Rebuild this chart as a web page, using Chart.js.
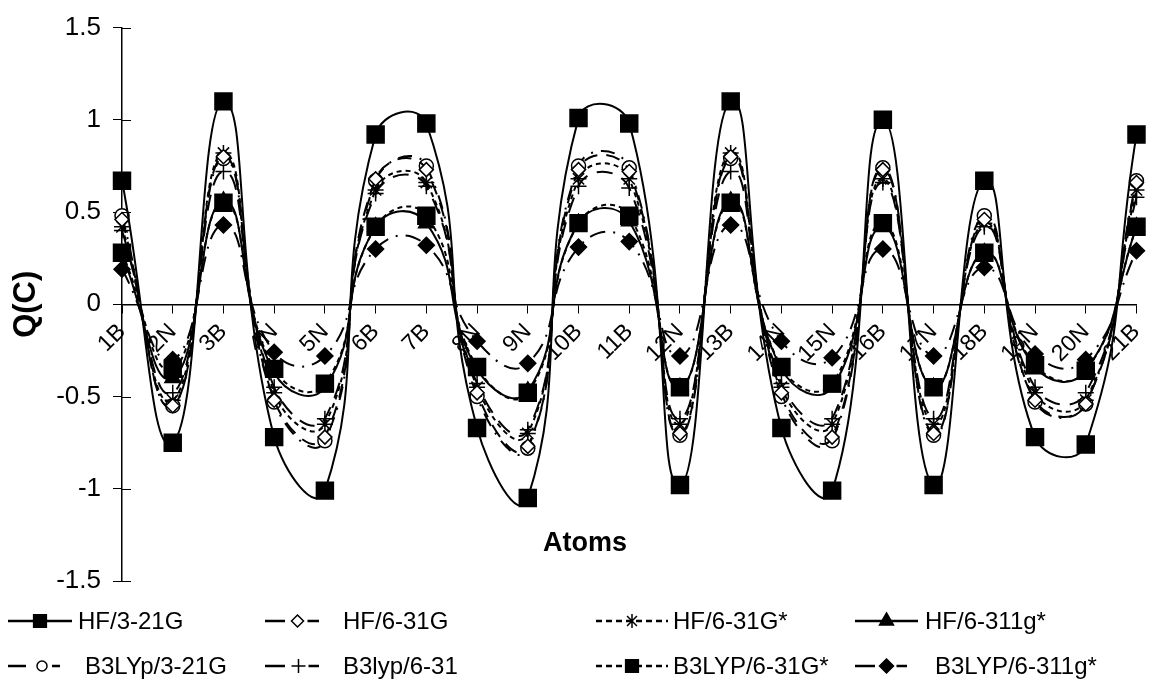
<!DOCTYPE html>
<html>
<head>
<meta charset="utf-8">
<style>
  html, body { margin: 0; padding: 0; background: #ffffff; }
  #wrap { width: 1162px; height: 687px; position: relative; }
</style>
<script src="https://cdn.jsdelivr.net/npm/chart.js@4/dist/chart.umd.min.js"></script>
</head>
<body>
<div id="wrap"><canvas id="c" width="1162" height="687"></canvas></div>
<script>
// ---- data ----
const categories = ['1B','2N','3B','4N','5N','6B','7B','8N','9N','10B','11B','12N','13B','14N','15N','16B','17N','18B','19N','20N','21B'];
const yTicks = [-1.5, -1, -0.5, 0, 0.5, 1, 1.5];

const seriesNames = ['HF/3-21G','HF/6-31G','HF/6-31G*','HF/6-311g*','B3LYp/3-21G','B3lyp/6-31','B3LYP/6-31G*','B3LYP/6-311g*'];

const hf321g   = [0.67,-0.75,1.10,-0.72,-1.01,0.92,0.98,-0.67,-1.05,1.01,0.98,-0.98,1.10,-0.67,-1.01,1.00,-0.98,0.67,-0.72,-0.76,0.92];
const hf631g   = [0.46,-0.55,0.80,-0.52,-0.72,0.68,0.73,-0.48,-0.77,0.73,0.72,-0.70,0.80,-0.48,-0.72,0.73,-0.70,0.46,-0.52,-0.54,0.66];
const hf631gs  = [0.42,-0.52,0.82,-0.48,-0.65,0.62,0.66,-0.45,-0.70,0.68,0.68,-0.65,0.82,-0.45,-0.65,0.68,-0.65,0.44,-0.48,-0.52,0.62];
const hf6311gs = [0.27,-0.40,0.56,-0.37,-0.45,0.42,0.44,-0.35,-0.47,0.44,0.45,-0.45,0.56,-0.35,-0.45,0.42,-0.45,0.28,-0.34,-0.36,0.42];
const b3321g   = [0.48,-0.55,0.79,-0.53,-0.74,0.67,0.75,-0.50,-0.78,0.75,0.74,-0.71,0.79,-0.50,-0.74,0.74,-0.71,0.48,-0.53,-0.54,0.67];
const b3631    = [0.40,-0.48,0.72,-0.45,-0.62,0.60,0.64,-0.43,-0.68,0.64,0.63,-0.62,0.72,-0.43,-0.62,0.66,-0.62,0.42,-0.45,-0.48,0.58];
const b3631gs  = [0.28,-0.35,0.55,-0.35,-0.43,0.42,0.48,-0.34,-0.48,0.44,0.48,-0.45,0.55,-0.34,-0.43,0.44,-0.45,0.28,-0.33,-0.36,0.42];
const b36311gs = [0.19,-0.30,0.43,-0.26,-0.28,0.30,0.32,-0.20,-0.32,0.31,0.34,-0.28,0.43,-0.20,-0.29,0.30,-0.28,0.20,-0.27,-0.30,0.29];

const seriesValues = [hf321g, hf631g, hf631gs, hf6311gs, b3321g, b3631, b3631gs, b36311gs];

// ---- styles ----
const FONT = "'Liberation Sans', Arial, sans-serif";
const styles = [
  { dash: [],            point: 'rect',     r: 12, fill: '#000', lr: 9, ldash: [] },
  { dash: [14, 9],       point: 'rectRot',  r: 7,  fill: '#fff', lr: 6, ldash: [20, 14] },
  { dash: [5, 4],        point: 'star',     r: 8,  fill: '#000', lr: 7, ldash: [6, 4] },
  { dash: [],            point: 'triangle', r: 9,  fill: '#000', lr: 8, ldash: [] },
  { dash: [14, 8, 2, 8], point: 'circle',   r: 7,  fill: '#fff', lr: 5, ldash: [18, 16] },
  { dash: [16, 10],      point: 'cross',    r: 8,  fill: '#000', lr: 7, ldash: [20, 14] },
  { dash: [5, 4],        point: 'rect',     r: 12, fill: '#000', lr: 9, ldash: [6, 4] },
  { dash: [16, 8, 2, 8], point: 'rectRot',  r: 8,  fill: '#000', lr: 7, ldash: [20, 12] }
];

const datasets = seriesNames.map((name, i) => ({
  label: name,
  data: seriesValues[i],
  borderColor: '#000',
  backgroundColor: styles[i].fill,
  borderWidth: 2,
  borderDash: styles[i].dash,
  pointStyle: styles[i].point,
  pointRadius: styles[i].r,
  pointBorderWidth: 1.5,
  pointBorderColor: '#000',
  pointBackgroundColor: styles[i].fill,
  tension: 0.5,
  fill: false
}));

// legend layout (per item)
const legendLineStart = [8, 265, 596, 855, 8, 265, 596, 855];
const legendLineEnd   = [72, 330, 668, 918, 76, 332, 668, 918];
const legendTextX     = [78, 343, 673, 925, 85, 343, 673, 935];
const legendRowY      = [621, 666];

function drawMarker(ctx, style, r, x, y, fill) {
  ctx.save();
  ctx.fillStyle = fill;
  ctx.strokeStyle = '#000';
  ctx.lineWidth = 1.5;
  ctx.setLineDash([]);
  ctx.beginPath();
  if (style === 'rect') {
    const s = r * Math.SQRT1_2;
    ctx.rect(x - s, y - s, 2 * s, 2 * s);
    ctx.fill(); ctx.stroke();
  } else if (style === 'rectRot') {
    ctx.moveTo(x, y - r); ctx.lineTo(x + r, y); ctx.lineTo(x, y + r); ctx.lineTo(x - r, y); ctx.closePath();
    ctx.fill(); ctx.stroke();
  } else if (style === 'circle') {
    ctx.arc(x, y, r, 0, Math.PI * 2);
    ctx.fill(); ctx.stroke();
  } else if (style === 'triangle') {
    ctx.moveTo(x, y - r); ctx.lineTo(x + r * 0.87, y + r * 0.5); ctx.lineTo(x - r * 0.87, y + r * 0.5); ctx.closePath();
    ctx.fill(); ctx.stroke();
  } else if (style === 'cross') {
    ctx.moveTo(x, y - r); ctx.lineTo(x, y + r); ctx.moveTo(x - r, y); ctx.lineTo(x + r, y);
    ctx.stroke();
  } else if (style === 'star') {
    ctx.moveTo(x, y - r); ctx.lineTo(x, y + r);
    const d = r * Math.SQRT1_2;
    ctx.moveTo(x - d, y - d); ctx.lineTo(x + d, y + d);
    ctx.moveTo(x - d, y + d); ctx.lineTo(x + d, y - d);
    ctx.stroke();
  }
  ctx.restore();
}

const customPlugin = {
  id: 'custom',
  afterDraw(chart) {
    const ctx = chart.ctx;
    const yScale = chart.scales.y;
    const area = chart.chartArea;
    ctx.save();
    // inward y tick marks
    ctx.strokeStyle = '#000';
    ctx.lineWidth = 1;
    yScale.ticks.forEach(t => {
      const py = Math.round(yScale.getPixelForValue(t.value)) + 0.5;
      ctx.beginPath();
      ctx.moveTo(area.left, py);
      ctx.lineTo(area.left + 9, py);
      ctx.stroke();
    });
    // x axis title inside plot
    ctx.fillStyle = '#000';
    ctx.font = 'bold 27px ' + FONT;
    ctx.textAlign = 'center';
    ctx.textBaseline = 'middle';
    ctx.fillText('Atoms', chart.width / 2 + 4, yScale.getPixelForValue(-1.5) - 37);
    // legend
    ctx.font = '24px ' + FONT;
    ctx.textAlign = 'left';
    chart.data.datasets.forEach((ds, i) => {
      const row = Math.floor(i / 4);
      const x0 = legendLineStart[i], x1 = legendLineEnd[i], y = legendRowY[row];
      ctx.save();
      ctx.strokeStyle = '#000';
      ctx.lineWidth = 2.5;
      ctx.setLineDash(styles[i].ldash);
      ctx.beginPath();
      ctx.moveTo(x0, y);
      ctx.lineTo(x1, y);
      ctx.stroke();
      ctx.restore();
      if (styles[i].ldash.length && styles[i].ldash[0] > 10) {
        // clear gap around marker like the reference
        ctx.save();
        ctx.fillStyle = '#fff';
        ctx.fillRect((x0 + x1) / 2 - 10, y - 3, 20, 6);
        ctx.restore();
      }
      drawMarker(ctx, styles[i].point, styles[i].lr, (x0 + x1) / 2, y, styles[i].fill);
      ctx.fillStyle = '#000';
      ctx.fillText(ds.label, legendTextX[i], y + 1);
    });
    ctx.restore();
  }
};

new Chart(document.getElementById('c'), {
  type: 'line',
  data: { labels: categories, datasets },
  plugins: [customPlugin],
  options: {
    responsive: false,
    animation: false,
    devicePixelRatio: 1,
    layout: { padding: { left: 8, right: 14, top: 23, bottom: 106 } },
    plugins: { legend: { display: false }, tooltip: { enabled: false } },
    elements: { line: { capBezierPoints: false } },
    scales: {
      x: {
        type: 'category',
        position: { y: 0 },
        offset: false,
        grid: { display: true, drawOnChartArea: false, drawTicks: true, tickLength: 8, color: '#000', tickColor: '#000' },
        border: { display: true, color: '#000', width: 1.5 },
        ticks: { color: '#000', font: { family: FONT, size: 23 }, minRotation: 45, maxRotation: 45, autoSkip: false, padding: 6 }
      },
      y: {
        min: -1.5, max: 1.5,
        afterFit(scale) { scale.width = 114; },
        afterBuildTicks(scale) { scale.ticks = yTicks.map(v => ({ value: v })); },
        grid: { display: true, drawOnChartArea: false, drawTicks: true, tickLength: 9, color: '#000', tickColor: '#000' },
        border: { display: true, color: '#000', width: 1.5 },
        ticks: { color: '#000', font: { family: FONT, size: 26 }, padding: 12, callback: v => String(v) },
        title: { display: true, text: 'Q(C)', color: '#000', font: { family: FONT, size: 31, weight: 'bold' }, padding: { top: 0, bottom: 0 } }
      }
    }
  }
});
</script>
</body>
</html>
